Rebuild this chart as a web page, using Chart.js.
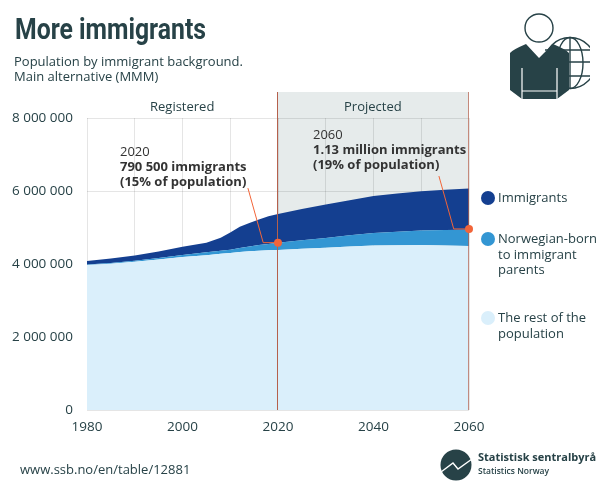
<!DOCTYPE html>
<html>
<head>
<meta charset="utf-8">
<script src="https://cdn.jsdelivr.net/npm/chart.js@4"></script>
<style>
  html, body { margin: 0; padding: 0; background: #fff; }
  body { width: 610px; height: 488px; position: relative; overflow: hidden; font-family: "Open Sans", sans-serif; color: #274247; }
  #wrap { position: absolute; left: 0; top: 0; width: 610px; height: 488px; }
  .t { position: absolute; white-space: nowrap; font-size: 13px; line-height: 15px; }
  .note { color: #333; }
  .dot { position: absolute; width: 14px; height: 14px; border-radius: 50%; }
  svg { position: absolute; }
</style>
</head>
<body>
<div id="wrap"><canvas id="popChart" width="610" height="488"></canvas></div>

<div class="t" id="title" style="left:15px;top:9px;font:700 30px/40px Roboto,sans-serif;transform:scaleX(.825);transform-origin:left top;">More immigrants</div>
<div class="t" style="left:14px;top:54px;">Population by immigrant background.<br>Main alternative (MMM)</div>

<div class="t" style="left:150px;top:99px;">Registered</div>
<div class="t" style="left:344px;top:99px;">Projected</div>

<div class="t note" style="left:120px;top:144px;">2020<br><b>790 500 immigrants<br>(15% of population)</b></div>
<div class="t note" style="left:313px;top:127px;">2060<br><b>1.13 million immigrants<br>(19% of population)</b></div>

<div class="dot" style="left:481px;top:191px;background:#143f90"></div>
<div class="t" style="left:498px;top:190px;">Immigrants</div>
<div class="dot" style="left:481px;top:232px;background:#3396d3"></div>
<div class="t" style="left:498px;top:231px;line-height:15.5px;">Norwegian-born<br>to immigrant<br>parents</div>
<div class="dot" style="left:481px;top:311px;background:#daeffb"></div>
<div class="t" style="left:498px;top:310px;line-height:15.5px;">The rest of the<br>population</div>

<div class="t" style="left:20px;top:462px;">www.ssb.no/en/table/12881</div>

<svg style="left:500px;top:10px" width="90" height="95" viewBox="500 10 90 95">
  <g fill="none" stroke="#274247" stroke-width="1.4">
    <circle cx="539" cy="28" r="14"/>
    <circle cx="570" cy="63" r="25.5"/>
    <ellipse cx="570" cy="63" rx="13" ry="25.5"/>
    <path d="M570 37.5V88.5M545 50H594M545 62H595.5M545 76H594"/>
  </g>
  <path d="M510 53Q512 50 526 44L539 58L553 44Q567 50 569 53V90L557 99H522L510 90Z" fill="#274247"/>
  <path d="M522 68V99M557 68V99M522 91H557" fill="none" stroke="#fff" stroke-width="1.2"/>
</svg>

<svg style="left:440px;top:448px" width="34" height="34" viewBox="440 448 34 34">
  <circle cx="456" cy="465" r="15.5" fill="#274247"/>
  <path d="M441 472L453 463L458 469L472 459" fill="none" stroke="#fff" stroke-width="1.4"/>
</svg>
<div class="t" style="left:478px;top:449px;font-weight:700;font-size:11px;">Statistisk sentralbyrå</div>
<div class="t" style="left:478px;top:463px;font-size:8.5px;font-weight:600;">Statistics Norway</div>

<script>
const years = [1980, 1985, 1990, 1995, 2000, 2005, 2008, 2010, 2012, 2014, 2016, 2018, 2020, 2025, 2030, 2035, 2040, 2045, 2050, 2055, 2060];
const restOfPopulation = [3970000, 4010000, 4060000, 4120000, 4190000, 4240000, 4280000, 4300000, 4330000, 4350000, 4365000, 4375000, 4385000, 4420000, 4445000, 4480000, 4505000, 4515000, 4520000, 4510000, 4490000];
const norwegianBorn = [15000, 20000, 30000, 45000, 60000, 80000, 85000, 90000, 110000, 130000, 155000, 175000, 195000, 230000, 270000, 310000, 345000, 370000, 395000, 420000, 450000];
const immigrants = [95000, 120000, 140000, 175000, 225000, 260000, 355000, 475000, 580000, 640000, 700000, 760000, 790000, 860000, 915000, 960000, 1010000, 1045000, 1075000, 1105000, 1130000];

const yTicks = [0, 2000000, 4000000, 6000000, 8000000];
const note2020Line = [[2013.7, 6080000], [2016.9, 4585000], [2020, 4585000]];
const note2060Line = [[2053.7, 6410000], [2056.8, 4960000], [2060, 4960000]];
const markers = [[2020, 4585000], [2060, 4960000]];

const toPoints = (values) => values.map((v, i) => ({ x: years[i], y: v }));
const pairs = (list) => list.map((p) => ({ x: p[0], y: p[1] }));

function area(label, values, color, fill) {
  return {
    label: label,
    data: toPoints(values),
    backgroundColor: color,
    borderWidth: 0,
    pointRadius: 0,
    tension: 0,
    fill: fill,
    stack: "population",
    order: 1,
  };
}

function leader(label, list) {
  return {
    label: label,
    data: pairs(list),
    borderColor: "#f26539",
    borderWidth: 1,
    pointRadius: 0,
    fill: false,
    tension: 0,
    stack: label,
    order: 0,
  };
}

// projected band goes above the 8M gridline, so it is painted by hand
const periodPlugin = {
  id: "period",
  beforeDraw(chart) {
    const x = chart.scales.x;
    const y = chart.scales.y;
    const left = x.getPixelForValue(2020);
    const right = x.getPixelForValue(2060);
    const ctx = chart.ctx;
    ctx.save();
    ctx.fillStyle = "#e6ebeb";
    ctx.fillRect(left, y.top - 26, right - left, y.bottom - y.top + 26);
    ctx.restore();
  },
  // rules sit over the areas but under the marker dots
  beforeDatasetDraw(chart, args) {
    if (chart.data.datasets[args.index].label !== "markers") return;
    const x = chart.scales.x;
    const y = chart.scales.y;
    const ctx = chart.ctx;
    ctx.save();
    ctx.lineWidth = 1;
    ctx.strokeStyle = "#b5604c";
    [2020, 2060].forEach((year) => {
      const px = Math.round(x.getPixelForValue(year)) - 0.5;
      ctx.globalAlpha = year === 2020 ? 1 : 0.7;
      ctx.beginPath();
      ctx.moveTo(px, y.top - 26);
      ctx.lineTo(px, y.bottom);
      ctx.stroke();
    });
    ctx.restore();
  },
};

new Chart(document.getElementById("popChart").getContext("2d"), {
  type: "line",
  data: {
    datasets: [
      area("The rest of the population", restOfPopulation, "#daeffb", "origin"),
      area("Norwegian-born to immigrant parents", norwegianBorn, "#3396d3", "-1"),
      area("Immigrants", immigrants, "#143f90", "-1"),
      {
        label: "markers",
        data: pairs(markers),
        showLine: false,
        pointRadius: 4,
        pointBackgroundColor: "#f26539",
        pointBorderWidth: 0,
        fill: false,
        clip: false,
        stack: "markers",
        order: 0,
      },
      leader("note2020", note2020Line),
      leader("note2060", note2060Line),
    ],
  },
  options: {
    responsive: false,
    animation: false,
    devicePixelRatio: 1,
    layout: { padding: { left: 0, top: 118, right: 141, bottom: 38 } },
    plugins: { legend: { display: false }, tooltip: { enabled: false } },
    scales: {
      x: {
        type: "linear",
        min: 1980,
        max: 2060,
        grid: { color: "rgba(0,0,0,0.1)", tickLength: 0, drawTicks: false },
        border: { display: false },
        afterFit(scale) { scale.height = 40; },
        afterBuildTicks(scale) {
          scale.ticks = [];
          for (let yr = 1980; yr <= 2060; yr += 10) scale.ticks.push({ value: yr });
        },
        ticks: {
          color: "#274247",
          font: { family: "Open Sans", size: 13.5 },
          padding: 9,
          maxRotation: 0,
          autoSkip: false,
          callback: (v) => (v % 20 === 0 ? String(v) : ""),
        },
      },
      y: {
        stacked: true,
        min: 0,
        max: 8000000,
        afterFit(scale) { scale.width = 87; },
        afterBuildTicks(scale) { scale.ticks = yTicks.map((v) => ({ value: v })); },
        grid: { color: "rgba(0,0,0,0.1)", drawTicks: false },
        border: { display: false },
        ticks: {
          color: "#274247",
          font: { family: "Open Sans", size: 13.5 },
          padding: 14,
          callback: (v) => String(v).replace(/\B(?=(\d{3})+$)/g, " "),
        },
      },
    },
  },
  plugins: [periodPlugin],
});
</script>
</body>
</html>
